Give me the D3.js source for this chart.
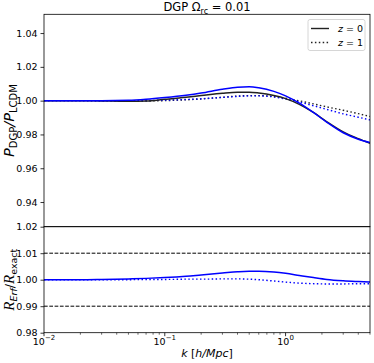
<!DOCTYPE html>
<html>
<head>
<meta charset="utf-8">
<script src="https://cdn.jsdelivr.net/npm/d3@7"></script>
<style>
  body { margin: 0; background: #fff; }
  svg { font-family: "DejaVu Sans", sans-serif; }
</style>
</head>
<body>
<div id="chart"></div>
<script>
// data
var kVals = [0.01, 0.02, 0.03, 0.05, 0.07, 0.1, 0.15, 0.2, 0.3, 0.4, 0.5, 0.6, 0.8, 1.0, 1.3, 1.7, 2.2, 3.0, 4.0, 5.0];

// top panel: P_DGP / P_LCDM
var exactZ0 = [1.0000, 1.0000, 0.9998, 0.9996, 0.9998, 1.0008, 1.0020, 1.0030, 1.0044, 1.0050, 1.0050, 1.0045, 1.0030, 1.0012, 0.9978, 0.9930, 0.9875, 0.9815, 0.9775, 0.9748];
var erfZ0   = [1.0000, 1.0000, 1.0000, 1.0002, 1.0008, 1.0018, 1.0032, 1.0045, 1.0068, 1.0080, 1.0082, 1.0076, 1.0055, 1.0028, 0.9985, 0.9930, 0.9872, 0.9810, 0.9772, 0.9752];
var exactZ1 = [1.0000, 1.0000, 0.9999, 0.9998, 0.9998, 1.0000, 1.0005, 1.0010, 1.0020, 1.0027, 1.0030, 1.0030, 1.0024, 1.0014, 0.9999, 0.9981, 0.9963, 0.9943, 0.9923, 0.9906];
var erfZ1   = [1.0000, 1.0000, 1.0000, 1.0000, 1.0001, 1.0003, 1.0007, 1.0011, 1.0019, 1.0025, 1.0028, 1.0028, 1.0022, 1.0010, 0.9992, 0.9970, 0.9948, 0.9922, 0.9902, 0.9886];

// bottom panel: R_Erf / R_exact
var ratioZ0 = [1.0000, 1.0000, 1.0001, 1.0003, 1.0005, 1.0008, 1.0013, 1.0018, 1.0025, 1.0030, 1.0032, 1.0032, 1.0029, 1.0024, 1.0016, 1.0008, 1.0001, 0.9996, 0.9993, 0.9991];
var ratioZ1 = [1.0000, 1.0000, 1.0000, 1.0000, 1.0001, 1.0001, 1.0002, 1.0002, 1.0003, 1.0003, 1.0002, 1.0000, 0.9995, 0.9991, 0.9987, 0.9985, 0.9984, 0.9984, 0.9985, 0.9985];

var topTicks = [0.94, 0.96, 0.98, 1.00, 1.02, 1.04];
var botTicks = [0.98, 0.99, 1.00, 1.01, 1.02];
var refLines = [0.99, 1.01];
var xTicks = [0.01, 0.1, 1];
var xTickExp = ["\u22122", "\u22121", "0"];

var W = 374, H = 363;
var left = 44, right = 370;
var topY0 = 14.3, topY1 = 226.7, botY1 = 332.7;

var svg = d3.select('#chart').append('svg')
  .attr('width', W).attr('height', H);

var x = d3.scaleLog().domain([0.01, 5]).range([left, right]);
var yTop = d3.scaleLinear().domain([0.9254, 1.0511]).range([topY1, topY0]);
var yBot = d3.scaleLinear().domain([0.98, 1.02]).range([botY1, topY1]);

var defs = svg.append('defs');
defs.append('clipPath').attr('id', 'clipTop').append('rect')
  .attr('x', left).attr('y', topY0).attr('width', right - left).attr('height', topY1 - topY0);
defs.append('clipPath').attr('id', 'clipBot').append('rect')
  .attr('x', left).attr('y', topY1).attr('width', right - left).attr('height', botY1 - topY1);

function series(vals) {
  return kVals.map(function(k, i) { return [k, vals[i]]; });
}

var lineTop = d3.line().curve(d3.curveMonotoneX)
  .x(function(d) { return x(d[0]); }).y(function(d) { return yTop(d[1]); });
var lineBot = d3.line().curve(d3.curveMonotoneX)
  .x(function(d) { return x(d[0]); }).y(function(d) { return yBot(d[1]); });

// top panel lines
var gTop = svg.append('g').attr('clip-path', 'url(#clipTop)');
var topLines = [
  {v: exactZ1, c: '#222', dash: '1.5,2.4', w: 1.4},
  {v: erfZ1, c: 'blue', dash: '1.5,2.4', w: 1.4},
  {v: exactZ0, c: '#222', dash: null, w: 1.5},
  {v: erfZ0, c: 'blue', dash: null, w: 1.5}
];
topLines.forEach(function(s) {
  gTop.append('path').attr('d', lineTop(series(s.v)))
    .attr('fill', 'none').attr('stroke', s.c).attr('stroke-width', s.w)
    .attr('stroke-dasharray', s.dash);
});

// bottom panel
var gBot = svg.append('g').attr('clip-path', 'url(#clipBot)');
refLines.forEach(function(v) {
  gBot.append('line').attr('x1', left).attr('x2', right)
    .attr('y1', yBot(v)).attr('y2', yBot(v))
    .attr('stroke', '#000').attr('stroke-width', 1).attr('stroke-dasharray', '3.7,1.6');
});
gBot.append('path').attr('d', lineBot(series(ratioZ1)))
  .attr('fill', 'none').attr('stroke', 'blue').attr('stroke-width', 1.4).attr('stroke-dasharray', '1.5,2.4');
gBot.append('path').attr('d', lineBot(series(ratioZ0)))
  .attr('fill', 'none').attr('stroke', 'blue').attr('stroke-width', 1.5);

// frames
[[topY0, topY1], [topY1, botY1]].forEach(function(p) {
  svg.append('rect').attr('x', left).attr('y', p[0])
    .attr('width', right - left).attr('height', p[1] - p[0])
    .attr('fill', 'none').attr('stroke', '#000').attr('stroke-width', 0.8);
});

// y axes
var axTop = d3.axisLeft(yTop).tickValues(topTicks).tickFormat(d3.format('.2f')).tickSize(3.5).tickPadding(3);
var axBot = d3.axisLeft(yBot).tickValues(botTicks).tickFormat(d3.format('.2f')).tickSize(3.5).tickPadding(3);
[axTop, axBot].forEach(function(ax) {
  var g = svg.append('g').attr('transform', 'translate(' + left + ',0)').call(ax);
  g.select('.domain').remove();
  g.selectAll('line').attr('stroke', '#000').attr('stroke-width', 0.8);
  g.selectAll('text').attr('font-size', 9.5).attr('fill', '#000').attr('font-family', 'DejaVu Sans');
});

// x axis (log, with minor ticks)
var minor = [];
[0.01, 0.1, 1].forEach(function(dec) {
  for (var m = 2; m <= 9; m++) { if (dec * m <= 5) minor.push(dec * m); }
});
var gx = svg.append('g').attr('transform', 'translate(0,' + botY1 + ')');
gx.selectAll('line.minor').data(minor).enter().append('line')
  .attr('x1', function(d) { return x(d); }).attr('x2', function(d) { return x(d); })
  .attr('y1', 0).attr('y2', 2).attr('stroke', '#000').attr('stroke-width', 0.6);
gx.selectAll('line.major').data(xTicks).enter().append('line')
  .attr('x1', function(d) { return x(d); }).attr('x2', function(d) { return x(d); })
  .attr('y1', 0).attr('y2', 3.5).attr('stroke', '#000').attr('stroke-width', 0.8);
var xl = gx.selectAll('text.xt').data(xTicks).enter().append('text')
  .attr('x', function(d) { return x(d); }).attr('y', 12)
  .attr('text-anchor', 'middle').attr('font-size', 9.5).attr('fill', '#000');
xl.append('tspan').text('10');
xl.append('tspan').attr('dy', -4.5).attr('font-size', 7).text(function(d, i) { return xTickExp[i]; });

// title
var title = svg.append('text').attr('x', (left + right) / 2).attr('y', 11)
  .attr('text-anchor', 'middle').attr('font-size', 11.5).attr('fill', '#000');
title.append('tspan').text('DGP \u03A9');
title.append('tspan').attr('dy', 2.5).attr('font-size', 8).text('rc');
title.append('tspan').attr('dy', -2.5).text(' = 0.01');

// x label
var xlab = svg.append('text').attr('x', (left + right) / 2).attr('y', 357)
  .attr('text-anchor', 'middle').attr('font-size', 11).attr('fill', '#000');
xlab.append('tspan').attr('font-style', 'italic').text('k');
xlab.append('tspan').text(' [');
xlab.append('tspan').attr('font-style', 'italic').text('h/Mpc');
xlab.append('tspan').text(']');

// y labels
var ylab1 = svg.append('text')
  .attr('transform', 'translate(14,' + ((topY0 + topY1) / 2) + ') rotate(-90)')
  .attr('text-anchor', 'middle').attr('font-size', 14.5).attr('fill', '#000');
ylab1.append('tspan').attr('font-style', 'italic').text('P');
ylab1.append('tspan').attr('dy', 3).attr('font-size', 10).text('DGP');
ylab1.append('tspan').attr('dy', -3).attr('font-style', 'italic').text('/P');
ylab1.append('tspan').attr('dy', 3).attr('font-size', 10).text('LCDM');

var ylab2 = svg.append('text')
  .attr('transform', 'translate(14,' + ((topY1 + botY1) / 2) + ') rotate(-90)')
  .attr('text-anchor', 'middle').attr('font-size', 13).attr('fill', '#000');
ylab2.append('tspan').attr('font-family', 'Liberation Serif').attr('font-style', 'italic').attr('font-size', 15).text('R');
ylab2.append('tspan').attr('dy', 3).attr('font-size', 9.5).attr('font-style', 'italic').text('Erf');
ylab2.append('tspan').attr('dy', -3).text('/');
ylab2.append('tspan').attr('font-family', 'Liberation Serif').attr('font-style', 'italic').attr('font-size', 15).text('R');
ylab2.append('tspan').attr('dy', 3).attr('font-size', 9.5).text('exact');

// legend
var lg = svg.append('g');
lg.append('rect').attr('x', 308).attr('y', 19.5).attr('width', 57).attr('height', 31)
  .attr('rx', 2).attr('fill', '#fff').attr('stroke', '#ccc').attr('stroke-width', 0.8);
var legendItems = [{dash: null, label: '0', y: 28.5}, {dash: '1.5,2.4', label: '1', y: 42.5}];
legendItems.forEach(function(it) {
  lg.append('line').attr('x1', 311).attr('x2', 329).attr('y1', it.y).attr('y2', it.y)
    .attr('stroke', '#222').attr('stroke-width', 1.4).attr('stroke-dasharray', it.dash);
  var t = lg.append('text').attr('x', 338).attr('y', it.y + 3.5)
    .attr('font-size', 9.5).attr('fill', '#000');
  t.append('tspan').attr('font-style', 'italic').text('z');
  t.append('tspan').text(' = ' + it.label);
});
</script>
</body>
</html>
